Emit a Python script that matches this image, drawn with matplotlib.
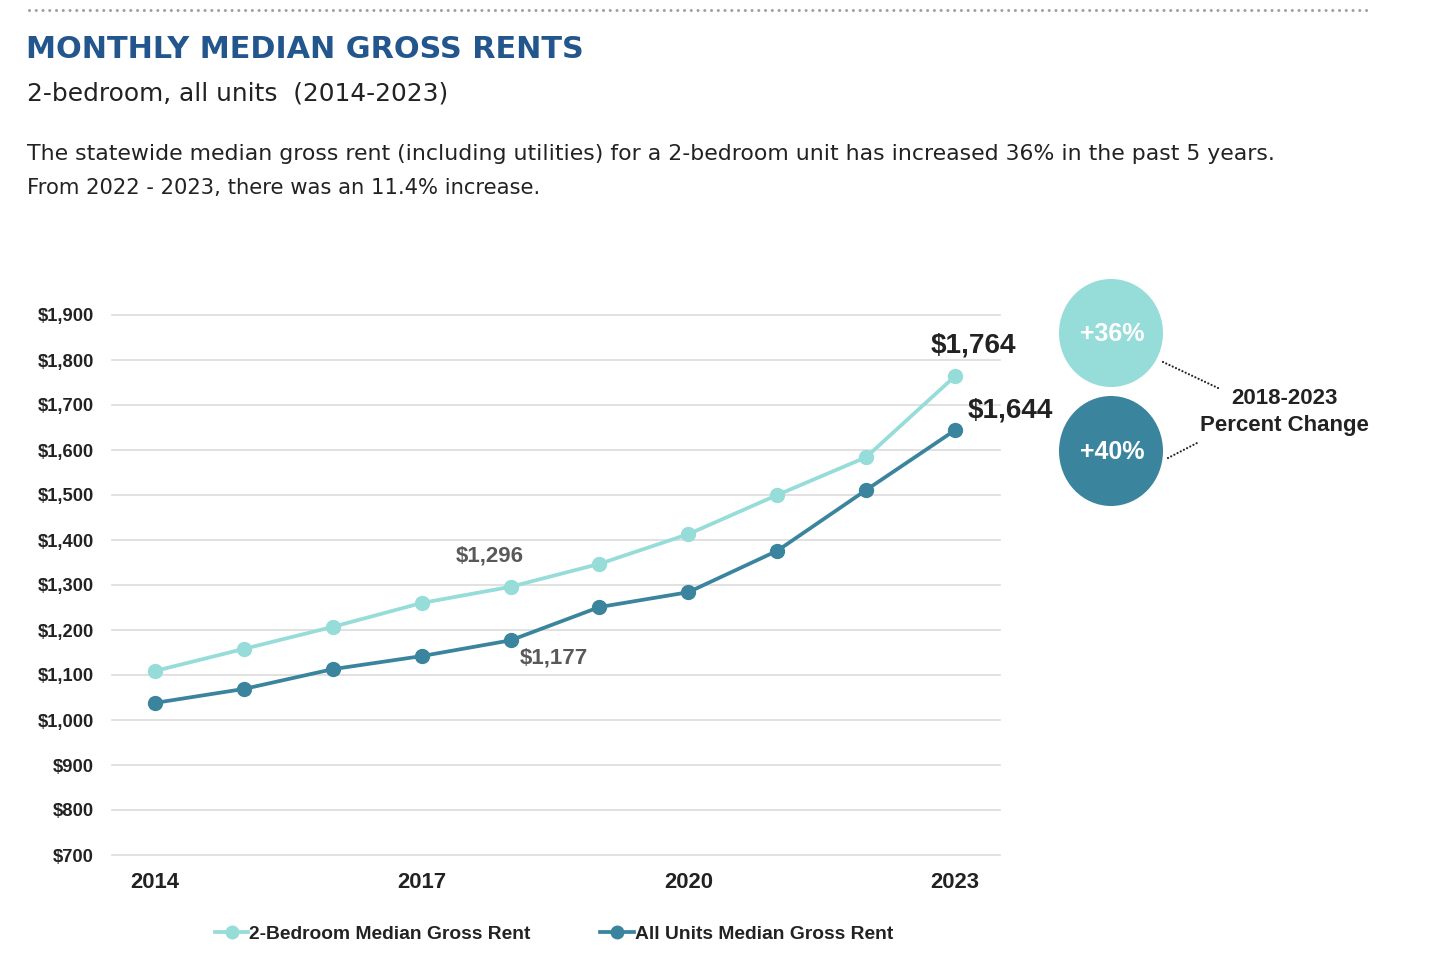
import matplotlib
matplotlib.use("Agg")
import matplotlib.pyplot as plt
from matplotlib.patches import Ellipse

years = [2014, 2015, 2016, 2017, 2018, 2019, 2020, 2021, 2022, 2023]
two_bed = [1109, 1158, 1207, 1260, 1296, 1347, 1413, 1500, 1584, 1764]
all_units = [1038, 1069, 1113, 1142, 1177, 1251, 1284, 1376, 1511, 1644]
xtick_years = [2014, 2017, 2020, 2023]
yticks = list(range(700, 2000, 100))
series_names = ["2-Bedroom Median Gross Rent", "All Units Median Gross Rent"]
pct_change = ["+36%", "+40%"]

LIGHT = "#96dcd9"
DARK = "#3a849e"
TITLE = "#22568c"
TXT = "#222222"
ARIAL = "Liberation Sans"

W, H = 1444, 976
fig = plt.figure(figsize=(W / 100, H / 100), dpi=100)
fig.patch.set_facecolor("white")
renderer = fig.canvas.get_renderer()

# overlay in pixel coords for decorations
ov = fig.add_axes([0, 0, 1, 1])
ov.set_xlim(0, W)
ov.set_ylim(H, 0)
ov.axis("off")


def fit_text(x, y, s, target_w, size0, **kw):
    t = ov.text(x, y, s, fontsize=size0, va="center", ha="left", **kw)
    w = t.get_window_extent(renderer=renderer).width
    t.set_fontsize(size0 * target_w / w)
    return t


# main chart axes
ax = fig.add_axes([112 / W, 1 - 855 / H, (1000 - 112) / W, (855 - 315) / H])
ax.set_xlim(2014 - 43 / 88.9, 2023 + 45 / 88.9)
ax.set_ylim(700, 1900)
for s in ax.spines.values():
    s.set_visible(False)
ax.set_yticks(yticks)
ax.set_yticklabels([f"${v:,}" for v in yticks], fontsize=13.2, fontweight="bold",
                   color=TXT, family=ARIAL)
ax.set_xticks(xtick_years)
ax.set_xticklabels([str(y) for y in xtick_years], fontsize=15.8, fontweight="bold",
                   color=TXT, family=ARIAL)
ax.tick_params(axis="y", length=0, pad=13)
ax.tick_params(axis="x", length=0, pad=12)
ax.grid(axis="y", color="#dcdcdc", linewidth=1.2)
for gl in ax.get_ygridlines():
    gl.set_clip_on(False)
ax.set_axisbelow(True)

l1, = ax.plot(years, two_bed, color=LIGHT, lw=2.7, marker="o", ms=10, zorder=3,
              label=series_names[0])
l2, = ax.plot(years, all_units, color=DARK, lw=2.7, marker="o", ms=10, zorder=3,
              label=series_names[1])

# value annotations
i18 = years.index(2018)
ax.annotate(f"${two_bed[i18]:,}", (years[i18], two_bed[i18]), xytext=(-15, 22),
            textcoords="offset points", ha="center", va="center", fontsize=16,
            fontweight="bold", color="#595959", family=ARIAL)
ax.annotate(f"${all_units[i18]:,}", (years[i18], all_units[i18]), xytext=(31, -13),
            textcoords="offset points", ha="center", va="center", fontsize=16,
            fontweight="bold", color="#595959", family=ARIAL)
ax.annotate(f"${two_bed[-1]:,}", (years[-1], two_bed[-1]), xytext=(13, 22),
            textcoords="offset points", ha="center", va="center", fontsize=20.2,
            fontweight="bold", color=TXT, family=ARIAL)
ax.annotate(f"${all_units[-1]:,}", (years[-1], all_units[-1]), xytext=(40, 14),
            textcoords="offset points", ha="center", va="center", fontsize=20.2,
            fontweight="bold", color=TXT, family=ARIAL)

# legend
leg = fig.legend(handles=[l1, l2], loc="center", bbox_to_anchor=(554 / W, 1 - 934 / H),
                 ncol=2, frameon=False, handlelength=1.75, handletextpad=0.05,
                 columnspacing=3.6, markerscale=0.9,
                 prop={"family": ARIAL, "weight": "bold", "size": 13.9})
for t in leg.get_texts():
    t.set_color(TXT)

# header
ov.plot([29, 1370], [10, 10], color="#a0a0a0", lw=2.2, ls=(0, (0.01, 2.2)),
        dash_capstyle="round", solid_capstyle="round")
fit_text(26, 49, "MONTHLY MEDIAN GROSS RENTS", 557, 20, fontweight="bold",
         color=TITLE, family="DejaVu Sans")
fit_text(27, 94, "2-bedroom, all units  (2014-2023)", 423, 16, color=TXT,
         family="DejaVu Sans")
fit_text(27, 154, "The statewide median gross rent (including utilities) for a 2-bedroom unit "
         "has increased 36% in the past 5 years.", 1252, 14, color=TXT,
         family="DejaVu Sans")
fit_text(27, 188, "From 2022 - 2023, there was an 11.4% increase.", 515, 14,
         color=TXT, family="DejaVu Sans")

# percent change circles
ov.add_patch(Ellipse((1111, 333), 104, 108, color=LIGHT, lw=0))
ov.add_patch(Ellipse((1111, 451), 104, 110, color=DARK, lw=0))
ov.text(1112, 334, pct_change[0], fontsize=18, fontweight="bold", color="white",
        ha="center", va="center", family=ARIAL)
ov.text(1112, 452, pct_change[1], fontsize=18, fontweight="bold", color="white",
        ha="center", va="center", family=ARIAL)
ov.plot([1163, 1218], [362, 388], color="#222222", lw=1.6, ls=(0, (0.01, 1.6)),
        dash_capstyle="round")
ov.plot([1168, 1197], [458, 443], color="#222222", lw=1.6, ls=(0, (0.01, 1.6)),
        dash_capstyle="round")
ov.text(1284, 399, "2018-2023", fontsize=16, fontweight="bold", color=TXT,
        ha="center", va="center", family=ARIAL)
ov.text(1284, 425, "Percent Change", fontsize=16, fontweight="bold", color=TXT,
        ha="center", va="center", family=ARIAL)

fig.savefig("out.png", dpi=100, facecolor="white")
